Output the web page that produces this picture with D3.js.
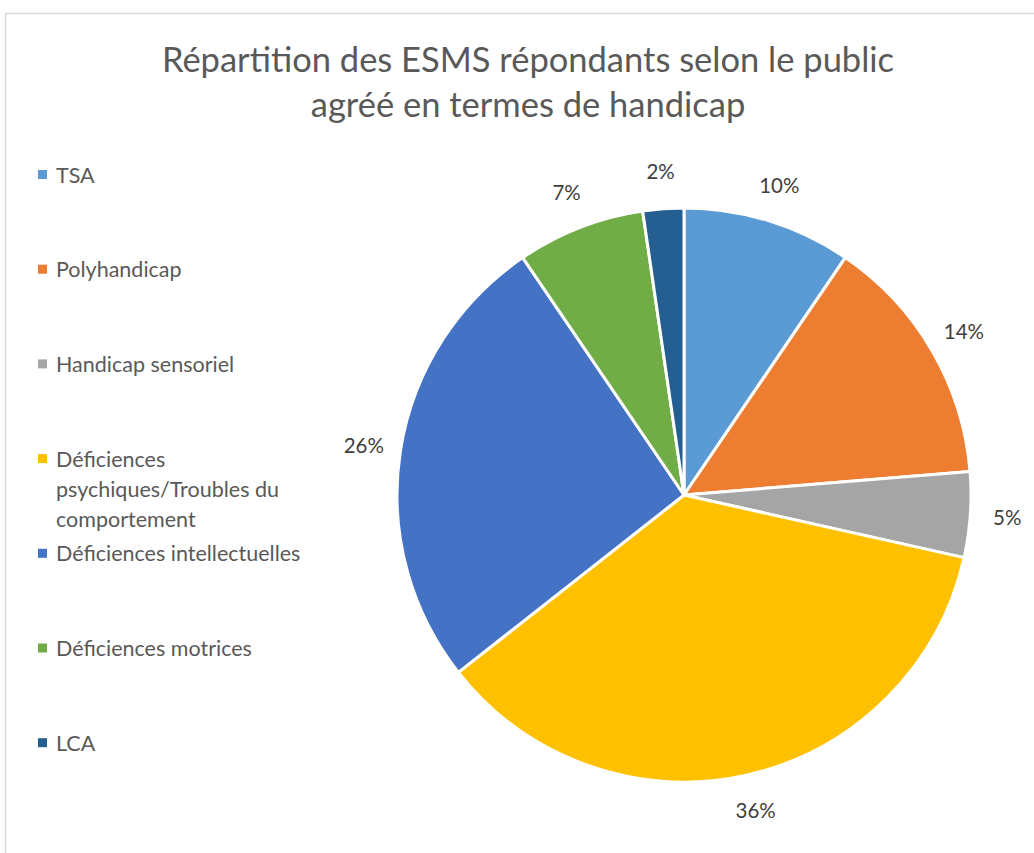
<!DOCTYPE html>
<html>
<head>
<meta charset="utf-8">
<script src="https://cdn.jsdelivr.net/npm/d3@7"></script>
<style>
  body { margin: 0; background: #fff; }
  svg { display: block; font-family: Lato, "Open Sans", sans-serif; }
</style>
</head>
<body>
<svg id="Viz"></svg>
<script>
// categories + values (percent)
let categories = ["TSA", "Polyhandicap", "Handicap sensoriel",
  "Déficiences psychiques/Troubles du comportement",
  "Déficiences intellectuelles", "Déficiences motrices", "LCA"];
let values = [9.5, 14.2, 4.8, 35.9, 26.1, 7.2, 2.3];
let colors = ["#5B9BD5", "#ED7D31", "#A5A5A5", "#FFC000", "#4472C4", "#70AD47", "#255E91"];
let titleLines = ["Répartition des ESMS répondants selon le public", "agréé en termes de handicap"];

let Width = 1034, Height = 853;
let cx = 684, cy = 495, radius = 287, labelR = 324;

let vizArea = d3.select('#Viz')
  .attr("width", Width)
  .attr("height", Height);

// chart frame
vizArea.append("rect")
  .attr("x", 5.5).attr("y", 13.5)
  .attr("width", 1100).attr("height", 1000)
  .attr("fill", "none")
  .attr("stroke", "#d9d9d9")
  .attr("stroke-width", 1.5);

// title
vizArea.append("text")
  .attr("text-anchor", "middle")
  .attr("fill", "#595959")
  .style("font-size", "34.5px")
  .selectAll("tspan")
  .data(titleLines)
  .enter()
  .append("tspan")
  .attr("x", 528)
  .attr("y", (d, i) => 72 + i * 45)
  .text(d => d);

let data = categories.map((c, i) => ({name: c, value: values[i], color: colors[i]}));

let pie = d3.pie().sort(null).value(d => d.value);
let arcs = pie(data);
let arc = d3.arc().innerRadius(0).outerRadius(radius);
let labelArc = d3.arc().innerRadius(labelR).outerRadius(labelR);

let g = vizArea.append("g")
  .attr("transform", "translate(" + cx + "," + cy + ")");

g.selectAll("path")
  .data(arcs)
  .enter()
  .append("path")
  .attr("d", arc)
  .attr("fill", d => d.data.color)
  .attr("stroke", "#fff")
  .attr("stroke-width", 3)
  .attr("stroke-linejoin", "round");

g.selectAll(".lbl")
  .data(arcs)
  .enter()
  .append("text")
  .attr("class", "lbl")
  .attr("transform", d => "translate(" + labelArc.centroid(d) + ")")
  .attr("text-anchor", "middle")
  .attr("dy", "0.35em")
  .attr("fill", "#404040")
  .style("font-size", "20.5px")
  .text(d => Math.round(d.data.value) + "%");

// legend
let legend = vizArea.append("g");
let item = legend.selectAll("g")
  .data(data)
  .enter()
  .append("g")
  .attr("transform", (d, i) => "translate(38," + (175 + i * 94.7) + ")");

item.append("rect")
  .attr("x", 0).attr("y", -5)
  .attr("width", 9).attr("height", 9)
  .attr("fill", d => d.color);

item.append("text")
  .attr("fill", "#595959")
  .style("font-size", "21.5px")
  .each(function(d) {
    let t = d3.select(this);
    let words = d.name.split(" ");
    let line = [], lineNo = 0;
    let tspan = t.append("tspan").attr("x", 18).attr("dy", "0.35em");
    words.forEach(w => {
      line.push(w);
      tspan.text(line.join(" "));
      if (tspan.node().getComputedTextLength() > 262 && line.length > 1) {
        line.pop();
        tspan.text(line.join(" "));
        line = [w];
        lineNo++;
        tspan = t.append("tspan").attr("x", 18).attr("y", lineNo * 30).attr("dy", "0.35em").text(w);
      }
    });
  });
</script>
</body>
</html>
